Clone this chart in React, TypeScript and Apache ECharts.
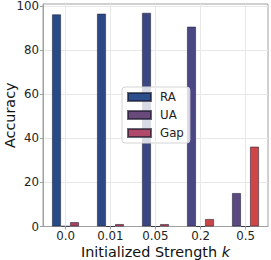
import React, { useEffect, useRef } from "react";
import * as echarts from "echarts";

const categories = ["0.0", "0.01", "0.05", "0.2", "0.5"];
const raValues = [96.4, 96.7, 97.1, 90.8, 15.2];
const uaValues = [0.2, 0, 0, 0, 0];
const gapValues = [2.0, 1.1, 1.1, 3.4, 36.3];
const yTicks = [0, 20, 40, 60, 80, 100];

const raColors = ["#264b87", "#2d4885", "#3c4683", "#4b4684", "#5a4a80"];
const uaColors = ["#5a4a80", "#5e4a80", "#624a7e", "#664a7d", "#6a4a7c"];
const gapColors = ["#a8425f", "#b0435c", "#b84458", "#c84648", "#d04646"];
const legendColors = { RA: "#2c4e8c", UA: "#6a4a7c", Gap: "#b0496a" };

const FONT = "DejaVu Sans";
const BORDER = "rgba(25,25,45,0.65)";

export default function App() {
  const ref = useRef<HTMLDivElement>(null);
  useEffect(() => {
    if (!ref.current) return;
    const chart = echarts.init(ref.current, undefined, { renderer: "svg" });
    const mk = (name: string, vals: number[], cols: string[], color: string, extra: any = {}) => ({
      name,
      type: "bar",
      barGap: "0%",
      barCategoryGap: "40%",
      itemStyle: { color, borderColor: BORDER, borderWidth: 0.8 },
      data: vals.map((v, i) => ({ value: v, itemStyle: { color: cols[i] } })),
      ...extra,
    });
    chart.setOption({
      animation: false,
      textStyle: { fontFamily: FONT },
      grid: {
        left: 43,
        right: 3,
        top: 4,
        bottom: 33.5,
        containLabel: false,
        outerBoundsMode: "none",
        show: true,
        borderColor: "#a0a0a0",
        borderWidth: 1,
        backgroundColor: "transparent",
      },
      legend: {
        data: ["RA", "UA", "Gap"],
        orient: "vertical",
        left: 122,
        top: 87,
        icon: "rect",
        itemWidth: 23,
        itemHeight: 8,
        itemGap: 4,
        padding: [3, 6, 3, 5],
        backgroundColor: "rgba(255,255,255,0.8)",
        borderColor: "#d4d4d4",
        borderWidth: 1,
        borderRadius: 3,
        textStyle: { fontFamily: FONT, fontSize: 11.8, color: "#222", lineHeight: 14, padding: [0, 0, 0, 4] },
      },
      xAxis: {
        type: "category",
        data: categories,
        boundaryGap: true,
        axisLine: { show: true, lineStyle: { color: "#a0a0a0", width: 1 } },
        axisTick: { show: true, alignWithLabel: true, length: 3, lineStyle: { color: "#a0a0a0" } },
        axisLabel: { fontFamily: FONT, fontSize: 11.8, color: "#222", margin: 3 },
        splitLine: { show: false },
        name: "{n|Initialized Strength }{k|k}",
        nameLocation: "middle",
        nameGap: 18.5,
        nameMoveOverlap: false,
        nameTextStyle: {
          rich: {
            n: { fontFamily: FONT, fontSize: 14.4, color: "#111" },
            k: { fontFamily: FONT, fontSize: 14.4, color: "#111", fontStyle: "italic" },
          },
        },
      },
      yAxis: {
        type: "value",
        min: 0,
        max: 101.1,
        interval: 20,
        axisLine: { show: true, lineStyle: { color: "#a0a0a0", width: 1 } },
        axisTick: { show: true, length: 3, lineStyle: { color: "#a0a0a0" }, customValues: yTicks },
        axisLabel: { fontFamily: FONT, fontSize: 11.8, color: "#222", margin: 4, customValues: yTicks },
        splitLine: { show: true, lineStyle: { color: "#e8e8e8", width: 1 } },
        name: "Accuracy",
        nameLocation: "middle",
        nameGap: 26,
        nameMoveOverlap: false,
        nameTextStyle: { fontFamily: FONT, fontSize: 14.4, color: "#111" },
      },
      series: [
        mk("RA", raValues, raColors, legendColors.RA),
        mk("UA", uaValues, uaColors, legendColors.UA, {
          markLine: {
            silent: true,
            symbol: ["none", "none"],
            label: { show: false },
            lineStyle: { color: "#e8e8e8", width: 1, type: "solid" },
            data: categories.map((c) => ({ xAxis: c })),
          },
        }),
        mk("Gap", gapValues, gapColors, legendColors.Gap),
      ],
    });
    return () => chart.dispose();
  }, []);
  return (
    <div
      ref={ref}
      style={{ position: "fixed", left: 0, top: 0, width: 271, height: 260, background: "#fff" }}
    />
  );
}
